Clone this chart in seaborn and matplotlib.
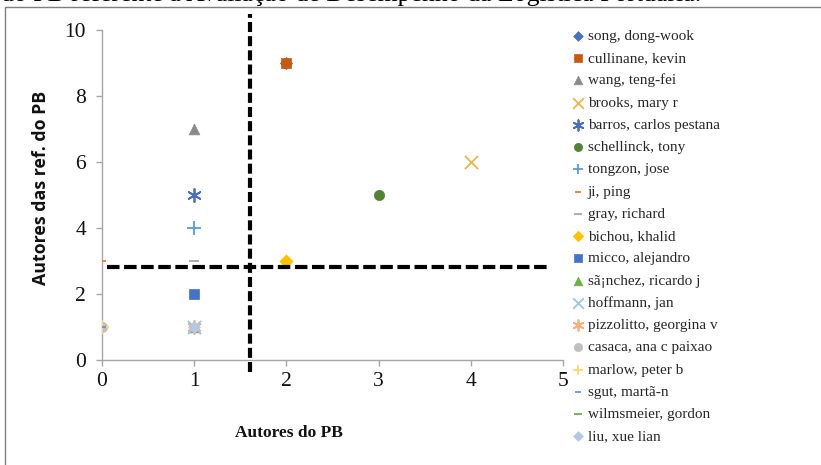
import matplotlib
matplotlib.use("Agg")
import matplotlib.pyplot as plt
from matplotlib.lines import Line2D
from matplotlib.patches import Rectangle
import seaborn as sns
import pandas as pd

authors = ["song, dong-wook", "cullinane, kevin", "wang, teng-fei", "brooks, mary r",
           "barros, carlos pestana", "schellinck, tony", "tongzon, jose", "ji, ping",
           "gray, richard", "bichou, khalid", "micco, alejandro", "sã¡nchez, ricardo j",
           "hoffmann, jan", "pizzolitto, georgina v", "casaca, ana c paixao",
           "marlow, peter b", "sgut, martã-n", "wilmsmeier, gordon", "liu, xue lian"]
autores_pb = [2, 2, 1, 4, 1, 3, 1, 0, 1, 2, 1, 1, 1, 1, 0, 0, 0, 1, 1]
autores_ref = [9, 9, 7, 6, 5, 5, 4, 3, 3, 3, 2, 1, 1, 1, 1, 1, 1, 1, 1]
corte_x = 1.6
corte_y = 2.83
x_ticks = [0, 1, 2, 3, 4, 5]
y_ticks = [0, 2, 4, 6, 8, 10]

colors = ["#4472C4", "#C55A11", "#8A8A8A", "#E8B54C", "#4A6FBF", "#548235",
          "#5B9BD5", "#ED7D31", "#A5A5A5", "#FFC000", "#4472C4", "#70AD47",
          "#9DC3E6", "#F4B183", "#BFBFBF", "#FFD966", "#6F8FD0", "#70AD47", "#B4C7E7"]
ASTER = (6, 2, 0)
markers = ["D", "s", "^", "x", ASTER, "o", "+", "_", "_", "D", "s", "^",
           "x", ASTER, "o", "+", "_", "_", "D"]
sizes = [38, 60, 60, 90, 90, 55, 90, 30, 55, 45, 60, 60, 90, 90, 55, 90, 30, 55, 38]

df = pd.DataFrame({"author": authors, "x": autores_pb, "y": autores_ref})

W, H = 821, 465
fig = plt.figure(figsize=(W / 100, H / 100), dpi=100)
sns.set_style("white")
plt.rcParams["font.family"] = ["Liberation Serif", "DejaVu Serif"]

ax = fig.add_axes([102 / W, 1 - 360 / H, 461 / W, 330 / H])

for i, name in enumerate(authors):
    sub = df[df["author"] == name]
    m = markers[i]
    filled = m in ("D", "s", "^", "o")
    kw = dict(edgecolor=colors[i], linewidth=0.5) if filled else dict(linewidth=1.3)
    sns.scatterplot(data=sub, x="x", y="y", ax=ax, marker=m, color=colors[i],
                    s=sizes[i], label=name, zorder=3 + i * 0.01, **kw)

ax.set_xlim(0, 5)
ax.set_ylim(0, 10)
ax.set_xticks(x_ticks)
ax.set_yticks(y_ticks)
ax.set_xticklabels([str(t) for t in x_ticks])
ax.set_yticklabels([str(t) for t in y_ticks])
for s in ["top", "right"]:
    ax.spines[s].set_visible(False)
for s in ["left", "bottom"]:
    ax.spines[s].set_color("#A6A6A6")
    ax.spines[s].set_linewidth(1.0)
ax.tick_params(axis="both", which="major", direction="out", length=4.5, width=1.0,
               color="#A6A6A6", labelsize=15.5, labelcolor="#111111",
               bottom=True, left=True)
ax.tick_params(axis="x", pad=4.5)
ax.tick_params(axis="y", pad=7)
ax.grid(False)
ax.patch.set_alpha(0)

ax.set_xlabel("Autores do PB", fontsize=12.5, fontweight="bold", color="#111111")
ax.xaxis.set_label_coords((289 - 102) / 461, -(425 - 360) / 330)
ax.set_ylabel("Autores das ref. do PB", fontsize=12.8, fontweight="bold",
              family=["Open Sans", "DejaVu Sans"], color="#111111")
ax.yaxis.set_label_coords((50 - 102) / 461, (360 - 188) / 330)

# dashed cut-off lines (extend beyond the plot area)
ax.add_line(Line2D([corte_x, corte_x], [-0.36, 10.5], color="black", lw=3,
                   dashes=(2.4, 1.0), clip_on=False, zorder=5))
ax.add_line(Line2D([0.05, 4.86], [corte_y, corte_y], color="black", lw=3,
                   dashes=(3.0, 1.1), clip_on=False, zorder=5))

leg = ax.legend(loc="upper left", bbox_to_anchor=(570 / W, 1 - 29 / H),
                bbox_transform=fig.transFigure, frameon=False,
                prop={"family": "Liberation Serif", "size": 11},
                handletextpad=0.15, labelspacing=0.56, borderpad=0,
                handlelength=1.0, borderaxespad=0, markerscale=0.8)

# outer frame and clipped caption from surrounding document
fig.patches.append(Rectangle((5 / W, -0.05), 1.0, 1 - 7 / H + 0.05,
                             transform=fig.transFigure, fill=False,
                             edgecolor="#7F7F7F", lw=1.0))
fig.text(1 / W, 1 - 1.5 / H,
         "do PB referente à Avaliação de Desempenho da Logística Portuária.",
         fontsize=18.5, va="baseline", ha="left", color="black",
         family=["Liberation Serif"])

fig.savefig("out.png", dpi=100)
